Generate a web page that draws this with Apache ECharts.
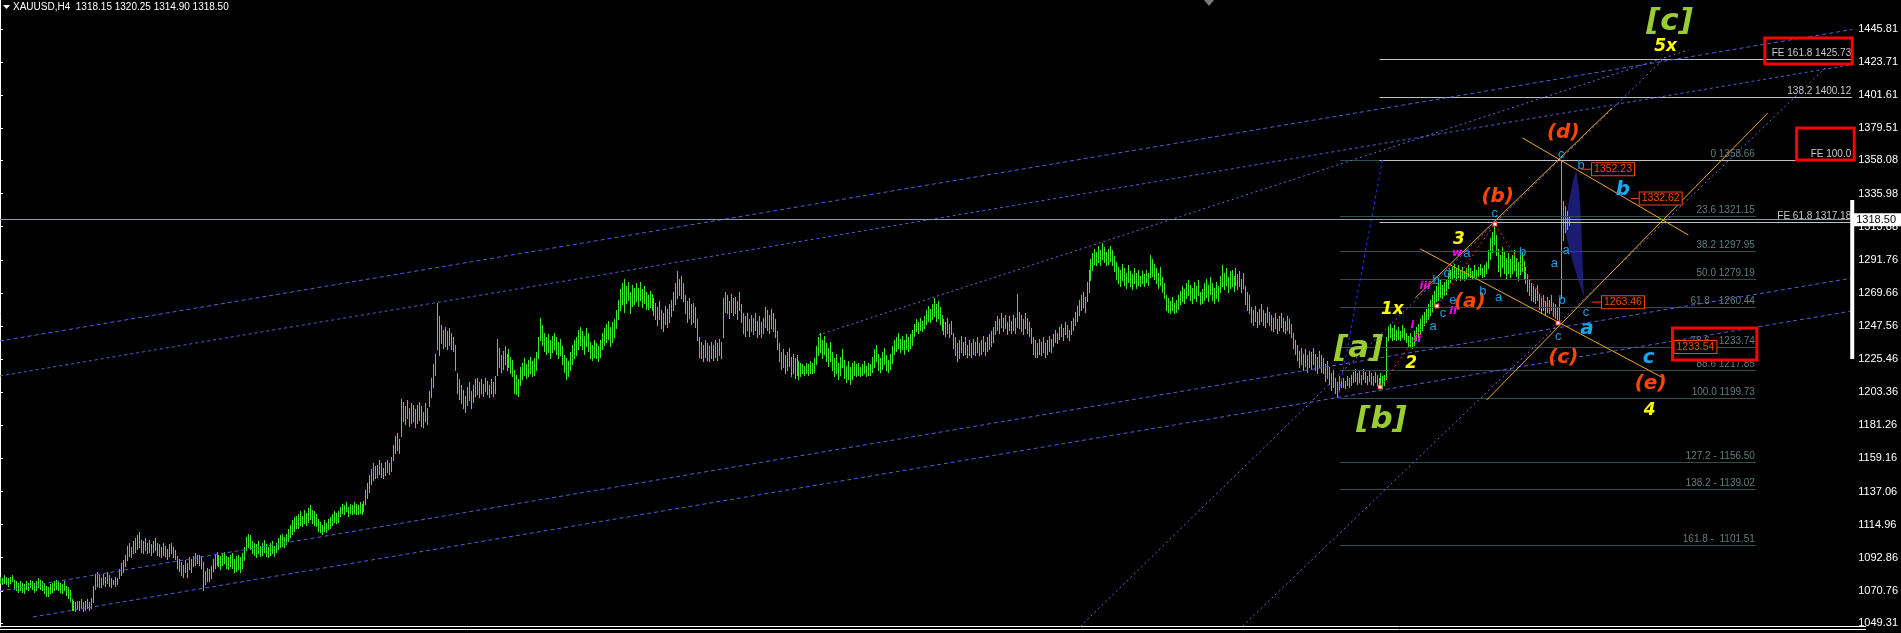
<!DOCTYPE html>
<html>
<head>
<meta charset="utf-8">
<script src="https://cdn.jsdelivr.net/npm/echarts@6/dist/echarts.min.js"></script>
<style>
html, body { margin: 0; padding: 0; background: #000; }
#chart { width: 1901px; height: 633px; }
</style>
</head>
<body>
<div id="chart"></div>
<script>
// XAUUSD H4 bars, oldest first: [high, low]
const barHighLow = [
[1080,1076],[1079,1075],[1081,1076],[1080,1075],[1079,1074],[1080,1076],[1081,1077],[1078,1072],[1077,1071],[1076,1070],
[1077,1071],[1076,1070],[1075,1069],[1077,1072],[1076,1071],[1078,1073],[1077,1072],[1076,1070],[1077,1071],[1079,1073],
[1078,1072],[1077,1071],[1076,1069],[1074,1067],[1073,1067],[1075,1069],[1076,1070],[1077,1071],[1078,1072],[1077,1071],
[1076,1070],[1075,1069],[1077,1071],[1074,1068],[1073,1066],[1071,1064],[1065,1058],[1064,1058],[1063,1057],[1064,1059],
[1064,1058],[1065,1059],[1063,1057],[1064,1058],[1065,1059],[1063,1058],[1066,1059],[1074,1063],[1082,1072],[1083,1074],
[1081,1073],[1079,1073],[1082,1075],[1080,1074],[1083,1076],[1081,1074],[1079,1073],[1078,1075],[1080,1074],[1079,1075],
[1085,1079],[1089,1081],[1091,1083],[1095,1087],[1101,1091],[1103,1094],[1100,1093],[1104,1096],[1106,1097],[1108,1099],
[1110,1100],[1105,1097],[1104,1096],[1106,1098],[1103,1096],[1105,1097],[1102,1095],[1104,1097],[1106,1098],[1103,1095],
[1102,1094],[1100,1093],[1103,1095],[1101,1094],[1099,1092],[1102,1094],[1103,1096],[1100,1093],[1098,1092],[1094,1086],
[1092,1084],[1090,1081],[1088,1080],[1091,1083],[1089,1080],[1093,1085],[1092,1083],[1094,1087],[1096,1088],[1095,1089],
[1095,1088],[1094,1086],[1090,1071],[1084,1075],[1086,1077],[1085,1077],[1087,1079],[1092,1084],[1095,1086],[1097,1088],
[1095,1087],[1094,1085],[1096,1088],[1097,1089],[1094,1086],[1093,1085],[1095,1087],[1096,1086],[1092,1083],[1094,1084],
[1095,1085],[1093,1083],[1096,1086],[1100,1091],[1107,1098],[1109,1100],[1108,1099],[1104,1096],[1103,1095],[1102,1093],
[1104,1096],[1101,1094],[1103,1095],[1105,1097],[1102,1094],[1100,1093],[1103,1095],[1104,1096],[1101,1094],[1103,1097],
[1106,1099],[1108,1100],[1109,1101],[1107,1100],[1109,1102],[1112,1104],[1115,1107],[1118,1109],[1120,1111],[1121,1113],
[1122,1113],[1124,1115],[1121,1114],[1125,1116],[1123,1115],[1126,1117],[1128,1119],[1125,1116],[1124,1115],[1122,1114],
[1119,1111],[1117,1110],[1115,1109],[1118,1111],[1116,1110],[1119,1112],[1120,1113],[1122,1115],[1124,1117],[1123,1116],
[1124,1117],[1127,1121],[1129,1123],[1128,1122],[1130,1124],[1127,1121],[1129,1123],[1128,1122],[1130,1123],[1129,1122],
[1128,1122],[1130,1123],[1129,1122],[1131,1124],[1138,1129],[1143,1133],[1148,1137],[1152,1142],[1156,1145],[1154,1146],
[1155,1147],[1158,1149],[1156,1147],[1153,1146],[1157,1148],[1158,1150],[1156,1149],[1160,1151],[1168,1158],[1174,1163],
[1176,1165],[1172,1163],[1199,1174],[1197,1184],[1194,1182],[1198,1186],[1193,1181],[1196,1183],[1195,1184],[1192,1180],
[1195,1183],[1197,1185],[1194,1181],[1190,1180],[1196,1184],[1193,1182],[1204,1194],[1213,1200],[1222,1207],[1229,1215],
[1263,1232],[1254,1228],[1248,1236],[1245,1233],[1247,1234],[1244,1232],[1246,1235],[1243,1232],[1240,1231],[1235,1218],
[1216,1203],[1212,1199],[1208,1196],[1205,1193],[1201,1190],[1207,1195],[1210,1198],[1204,1193],[1208,1197],[1212,1201],
[1213,1202],[1210,1200],[1212,1203],[1209,1201],[1213,1204],[1211,1202],[1208,1200],[1212,1203],[1210,1201],[1214,1203],
[1239,1215],[1233,1220],[1228,1217],[1231,1219],[1234,1222],[1229,1218],[1232,1220],[1227,1216],[1225,1214],[1218,1203],
[1215,1202],[1212,1201],[1220,1208],[1223,1212],[1226,1215],[1222,1213],[1225,1214],[1227,1216],[1224,1214],[1226,1215],
[1230,1218],[1240,1226],[1253,1238],[1248,1235],[1243,1231],[1240,1229],[1242,1230],[1238,1226],[1241,1230],[1243,1232],
[1240,1229],[1237,1226],[1239,1228],[1234,1222],[1228,1217],[1226,1212],[1224,1214],[1230,1218],[1235,1222],[1238,1226],
[1240,1228],[1245,1232],[1247,1235],[1244,1232],[1241,1229],[1246,1234],[1243,1231],[1237,1226],[1235,1225],[1238,1227],
[1236,1226],[1234,1224],[1238,1227],[1243,1232],[1246,1235],[1249,1237],[1251,1239],[1247,1234],[1250,1237],[1252,1240],
[1258,1246],[1265,1252],[1272,1258],[1276,1262],[1279,1257],[1274,1263],[1277,1265],[1270,1256],[1275,1261],[1273,1262],
[1276,1264],[1273,1261],[1277,1265],[1272,1260],[1274,1263],[1270,1259],[1268,1259],[1271,1260],[1269,1258],[1266,1255],
[1263,1252],[1260,1248],[1264,1252],[1258,1246],[1256,1244],[1261,1249],[1259,1247],[1262,1250],[1265,1254],[1270,1258],
[1276,1262],[1284,1266],[1279,1268],[1281,1266],[1276,1264],[1268,1256],[1264,1250],[1266,1253],[1262,1249],[1263,1250],
[1260,1247],[1252,1238],[1240,1227],[1237,1226],[1235,1224],[1238,1227],[1236,1225],[1234,1224],[1237,1226],[1235,1225],
[1238,1227],[1236,1225],[1239,1228],[1237,1226],[1266,1240],[1270,1257],[1268,1256],[1264,1253],[1269,1257],[1266,1255],
[1267,1256],[1264,1252],[1270,1258],[1262,1250],[1256,1243],[1254,1241],[1256,1245],[1252,1241],[1255,1244],[1253,1242],
[1256,1245],[1251,1240],[1254,1242],[1250,1240],[1253,1243],[1260,1247],[1258,1245],[1255,1243],[1259,1246],[1256,1244],
[1252,1240],[1244,1232],[1236,1224],[1230,1219],[1232,1220],[1228,1216],[1230,1218],[1233,1221],[1227,1214],[1229,1216],
[1226,1213],[1228,1215],[1224,1212],[1223,1214],[1222,1216],[1221,1215],[1223,1216],[1222,1215],[1224,1216],[1223,1216],
[1226,1217],[1234,1222],[1240,1228],[1243,1230],[1238,1226],[1241,1229],[1236,1224],[1233,1221],[1237,1224],[1230,1218],
[1226,1214],[1229,1216],[1223,1212],[1227,1215],[1232,1220],[1225,1213],[1221,1210],[1224,1212],[1220,1209],[1223,1212],
[1224,1215],[1222,1214],[1223,1215],[1220,1214],[1222,1215],[1224,1216],[1221,1214],[1223,1215],[1222,1215],[1227,1217],
[1232,1220],[1235,1224],[1229,1218],[1226,1217],[1230,1219],[1233,1222],[1228,1218],[1225,1217],[1229,1219],[1234,1223],
[1238,1229],[1240,1231],[1243,1233],[1239,1230],[1241,1232],[1238,1229],[1242,1232],[1240,1231],[1242,1233],[1245,1235],
[1249,1241],[1252,1244],[1250,1243],[1253,1245],[1251,1244],[1254,1246],[1258,1249],[1261,1251],[1259,1250],[1262,1252],
[1266,1254],[1262,1251],[1264,1253],[1260,1249],[1255,1245],[1252,1242],[1250,1241],[1253,1243],[1249,1240],[1251,1242],
[1243,1233],[1240,1228],[1236,1224],[1238,1226],[1241,1230],[1237,1228],[1240,1229],[1235,1227],[1238,1228],[1236,1227],
[1239,1229],[1237,1228],[1240,1230],[1236,1228],[1238,1229],[1241,1231],[1237,1228],[1240,1231],[1242,1232],[1244,1234],
[1247,1237],[1251,1242],[1254,1245],[1252,1243],[1256,1247],[1253,1244],[1255,1246],[1250,1242],[1254,1245],[1251,1243],
[1255,1245],[1253,1243],[1269,1247],[1257,1246],[1255,1244],[1252,1242],[1256,1246],[1253,1243],[1250,1241],[1246,1236],
[1240,1229],[1238,1227],[1236,1227],[1239,1229],[1237,1228],[1240,1230],[1236,1227],[1238,1229],[1241,1231],[1239,1230],
[1242,1234],[1245,1237],[1243,1236],[1247,1239],[1249,1241],[1246,1238],[1250,1242],[1248,1240],[1245,1238],[1251,1242],
[1253,1245],[1257,1248],[1261,1251],[1265,1255],[1268,1258],[1270,1260],[1267,1257],[1277,1264],[1285,1270],[1292,1278],
[1296,1285],[1299,1289],[1297,1288],[1301,1290],[1298,1288],[1303,1292],[1300,1290],[1297,1288],[1299,1289],[1301,1291],
[1298,1288],[1294,1284],[1290,1279],[1287,1276],[1285,1274],[1289,1278],[1286,1275],[1283,1273],[1288,1277],[1284,1274],
[1282,1272],[1286,1276],[1283,1273],[1285,1275],[1281,1274],[1284,1276],[1282,1274],[1285,1277],[1283,1275],[1295,1280],
[1292,1281],[1289,1279],[1286,1276],[1283,1273],[1287,1275],[1280,1270],[1276,1266],[1268,1258],[1266,1257],[1264,1256],
[1267,1258],[1263,1256],[1265,1257],[1268,1259],[1271,1262],[1274,1264],[1272,1263],[1276,1266],[1278,1268],[1275,1265],
[1273,1263],[1277,1266],[1274,1264],[1278,1268],[1270,1262],[1272,1263],[1276,1265],[1279,1267],[1275,1264],[1280,1269],
[1276,1265],[1273,1263],[1277,1266],[1274,1264],[1281,1270],[1288,1274],[1283,1272],[1286,1275],[1280,1270],[1284,1273],
[1285,1274],[1281,1271],[1286,1275],[1282,1272],[1284,1274],[1279,1270],[1283,1273],[1274,1262],[1270,1258],[1268,1256],
[1260,1250],[1258,1248],[1261,1251],[1257,1247],[1259,1249],[1262,1251],[1258,1248],[1256,1247],[1260,1250],[1257,1248],
[1255,1245],[1253,1244],[1256,1246],[1252,1243],[1254,1245],[1256,1247],[1253,1244],[1251,1243],[1254,1245],[1252,1243],
[1249,1240],[1243,1233],[1238,1229],[1235,1225],[1231,1220],[1233,1222],[1229,1218],[1232,1221],[1228,1217],[1231,1220],
[1230,1219],[1233,1222],[1229,1218],[1227,1216],[1231,1220],[1228,1217],[1226,1216],[1222,1211],[1224,1213],[1220,1209],
[1216,1205],[1218,1207],[1213,1203],[1210,1200],[1214,1204],[1212,1207],[1213,1207],[1211,1206],[1214,1208],[1213,1207],
[1215,1208],[1217,1210],[1219,1211],[1216,1209],[1218,1210],[1215,1209],[1219,1212],[1217,1210],[1214,1209],[1218,1211],
[1216,1209],[1214,1208],[1217,1210],[1215,1208],[1213,1207],[1216,1208],[1214,1206],[1215,1208],[1240,1212],[1247,1238],
[1249,1240],[1246,1238],[1248,1239],[1245,1238],[1247,1239],[1244,1238],[1248,1240],[1246,1239],[1243,1237],[1241,1234],
[1243,1234],[1240,1233],[1244,1235],[1247,1238],[1249,1240],[1252,1243],[1255,1245],[1257,1248],[1259,1250],[1262,1252],
[1265,1255],[1268,1257],[1271,1260],[1274,1264],[1276,1265],[1278,1267],[1275,1266],[1277,1268],[1279,1269],[1283,1273],
[1285,1277],[1287,1279],[1289,1280],[1286,1278],[1288,1280],[1285,1278],[1287,1279],[1284,1278],[1286,1279],[1288,1281],
[1286,1280],[1284,1279],[1288,1281],[1285,1280],[1287,1281],[1289,1282],[1286,1280],[1288,1281],[1290,1283],[1298,1286],
[1306,1292],[1310,1297],[1316,1302],[1308,1295],[1299,1284],[1295,1281],[1300,1287],[1297,1283],[1293,1279],[1296,1283],
[1292,1280],[1295,1283],[1298,1285],[1293,1281],[1290,1278],[1294,1282],[1297,1284],[1291,1279],[1287,1276],[1282,1271],
[1279,1268],[1276,1265],[1274,1264],[1272,1263],[1275,1265],[1269,1259],[1266,1256],[1268,1258],[1264,1255],[1267,1257],
[1265,1256],[1268,1258],[1263,1254],[1262,1253],[1260,1252],[1266,1250],[1358.66,1266],[1331,1305],[1328,1310],[1324,1312],
[1320.25,1314.9]
];

const symbolHeader = 'XAUUSD,H4  1318.15 1320.25 1314.90 1318.50';
const bidPrice = 1318.50;
const priceTicks = [1445.81, 1423.71, 1401.61, 1379.51, 1358.08, 1335.98, 1313.88, 1291.76, 1269.66,
  1247.56, 1225.46, 1203.36, 1181.26, 1159.16, 1137.06, 1114.96, 1092.86, 1070.76, 1049.31];

// fibonacci retracement: [price, text], drawn between two bar positions
const fibLevels = [
  [1358.66, '0 1358.66'], [1321.15, '23.6 1321.15'], [1297.95, '38.2 1297.95'], [1279.19, '50.0 1279.19'],
  [1260.44, '61.8 - 1260.44'], [1233.74, '78.6 - 1233.74'], [1217.85, '88.6 1217.85'], [1199.73, '100.0 1199.73'],
  [1156.50, '127.2 - 1156.50'], [1139.02, '138.2 - 1139.02'], [1101.51, '161.8 -  1101.51']
];
const fibSpan = [674.5, 884];
// fibonacci expansion
const feLevels = [[1425.73, 'FE 161.8 1425.73'], [1400.12, '138.2 1400.12'], [1358.2, 'FE 100.0'], [1317.18, 'FE 61.8 1317.18']];
const feSpan = [694.5, 932.5];

// trend / channel lines: [bar1, price1, bar2, price2]
const channelLines = [[0, 1237.5, 932.5, 1445.5], [0, 1070.6, 932.5, 1279.6], [16.5, 1053.3, 932.5, 1257.6]];
const channelLinesFine = [[0, 1214.2, 932.5, 1422.1]];
const dottedLines = [[412, 1241.5, 850, 1431.8], [542, 1044.6, 838, 1426.5], [622, 1042.6, 921.5, 1423.1]];
const blueLine = [[696, 1358.4, 673.5, 1198.2]];
const orangeLines = [[715, 1299.0, 836.5, 1213.5], [712.5, 1266.3, 811.5, 1393.1], [748.5, 1198.2, 890, 1389.8], [766.5, 1373.1, 850, 1308.3]];
// zigzag through the wave pivots: [bar, price]
const wavePath = [[695, 1206.8], [723.5, 1260.9], [752.5, 1315.7], [784.5, 1249.6]];
// projection shape to the right of the last bar: [bar, price]
const projection = [[793.5, 1351.7], [795, 1338.4], [796, 1318.3], [796.5, 1298.3], [797, 1281.6], [797.5, 1266.9],
  [795, 1276.3], [791.5, 1291.6], [789, 1305.0], [788, 1311.6], [788.5, 1321.7], [790, 1331.7], [792, 1345.0]];
// highlight rectangles: [bar1, price1, bar2, price2]
const boxes = [[888.5, 1439.8, 932.5, 1422.5], [904.5, 1379.7, 933.5, 1358.4], [842, 1246.2, 884.5, 1224.9]];
// price tags: [bar, price, text] and their leader lines
const priceTags = [[801.5, 1352.23, '1352.23'], [825.5, 1332.62, '1332.62'], [806.5, 1263.46, '1263.46'], [843, 1233.54, '1233.54']];
const tagLeaders = [[796, 1352.23, 801.5, 1352.23], [821, 1332.62, 825.5, 1332.62], [801.5, 1263.46, 806.5, 1263.46], [843, 1237.1, 853.5, 1237.1]];
// elliott wave labels: [bar, price, text, degree]
const waveLabels = [
  [840.5, 1450.5, '[c]', 'cycle'], [684, 1232.2, '[a]', 'cycle'], [695.5, 1184.8, '[b]', 'cycle'],
  [838.5, 1433.8, '5x', 'primary'], [734.5, 1305.0, '3', 'primary'], [701, 1258.2, '1x', 'primary'],
  [710.5, 1222.2, '2', 'primary'], [830.5, 1190.8, '4', 'primary'],
  [787, 1376.4, '(d)', 'inter'], [754, 1333.7, '(b)', 'inter'], [740, 1263.6, '(a)', 'inter'],
  [787, 1226.2, '(c)', 'inter'], [831, 1208.8, '(e)', 'inter'],
  [817, 1338.4, 'b', 'minor'], [799, 1245.6, 'a', 'minor'], [830, 1226.2, 'c', 'minor'],
  [786, 1362.4, 'c', 'minute'], [796, 1355.0, 'b', 'minute'], [752.5, 1323.0, 'c', 'minute'],
  [738.5, 1296.3, 'a', 'minute'], [728.5, 1282.9, 'd', 'minute'], [723, 1278.3, 'b', 'minute'],
  [731.5, 1264.9, 'e', 'minute'], [726.5, 1256.2, 'c', 'minute'], [721.5, 1247.6, 'a', 'minute'],
  [746.5, 1270.9, 'b', 'minute'], [754.5, 1266.9, 'a', 'minute'], [766.5, 1297.0, 'b', 'minute'],
  [782.5, 1289.6, 'a', 'minute'], [788.5, 1298.3, 'a', 'minute'], [786.5, 1264.9, 'b', 'minute'],
  [798.5, 1256.9, 'c', 'minute'], [784.5, 1240.9, 'c', 'minute'],
  [717.5, 1274.3, 'iii', 'minuette'], [733.5, 1296.3, 'w', 'minuette'], [711, 1248.2, 'i', 'minuette'],
  [713.5, 1238.9, 'ii', 'minuette'], [731.5, 1257.6, 'ii', 'minuette']
];
const axisHighlight = [[932.5, 1331.7, 1225.5]];

const degreeStyle = {
  cycle: { fill: '#9acd32', fontSize: 31, fontWeight: 'bold', fontStyle: 'italic' },
  primary: { fill: '#ffff00', fontSize: 17, fontWeight: 'bold', fontStyle: 'italic' },
  inter: { fill: '#ff4500', fontSize: 20, fontWeight: 'bold', fontStyle: 'italic' },
  minor: { fill: '#10aaf5', fontSize: 20, fontWeight: 'bold', fontStyle: 'italic' },
  minute: { fill: '#1e9ee6', fontSize: 13, fontWeight: 'normal', fontStyle: 'normal' },
  minuette: { fill: '#ff00ff', fontSize: 11, fontWeight: 'bold', fontStyle: 'italic' }
};
const SANS = '"Liberation Sans", Arial, sans-serif';

const chart = echarts.init(document.getElementById('chart'));

function segRenderer(stroke, dash) {
  return function (params, api) {
    const a = api.coord([api.value(0), api.value(1)]);
    const b = api.coord([api.value(2), api.value(3)]);
    return {
      type: 'line',
      shape: { x1: a[0], y1: a[1], x2: b[0], y2: b[1] },
      style: { stroke: stroke, lineWidth: 1, lineDash: dash }
    };
  };
}

function lineSeries(data, stroke, dash, z) {
  return { type: 'custom', data: data, clip: true, z: z, silent: true, renderItem: segRenderer(stroke, dash) };
}

function levelSeries(levels, span, lineColor, textColor) {
  return {
    type: 'custom', z: 3, silent: true, clip: false,
    data: levels.map(l => [l[0]]),
    renderItem: function (params, api) {
      const a = api.coord([span[0], api.value(0)]);
      const b = api.coord([span[1], api.value(0)]);
      const y = Math.round(a[1]) + 0.5;
      return {
        type: 'group',
        children: [
          { type: 'line', shape: { x1: a[0], y1: y, x2: b[0], y2: y }, style: { stroke: lineColor, lineWidth: 1 } },
          { type: 'text', x: b[0] - 1, y: y - 1,
            style: { text: levels[params.dataIndex][1], fill: textColor, fontSize: 10, fontFamily: SANS, align: 'right', verticalAlign: 'bottom' } }
        ]
      };
    }
  };
}

const option = {
  backgroundColor: '#000000',
  animation: false,
  grid: { left: 0, right: 36, top: 0, bottom: 6 },
  xAxis: { type: 'value', min: 0, max: 932.5, show: false },
  yAxis: {
    type: 'value', position: 'right', min: 1046.6, max: 1465.2,
    axisLine: { show: true, lineStyle: { color: '#ffffff', width: 1 } },
    axisTick: { show: true, length: 3, lineStyle: { color: '#ffffff' }, customValues: priceTicks },
    axisLabel: { color: '#ffffff', fontSize: 11, fontFamily: SANS, margin: 6, customValues: priceTicks,
      formatter: v => v.toFixed(2) },
    splitLine: { show: false }
  },
  graphic: [
    { type: 'polygon', shape: { points: [[3, 5], [10, 5], [6.5, 9]] }, style: { fill: '#ffffff' } },
    { type: 'text', left: 13, top: 2, style: { text: symbolHeader, fill: '#ffffff', fontSize: 10, fontFamily: SANS } },
    { type: 'polygon', shape: { points: [[1204, 0], [1214, 0], [1209, 6]] }, style: { fill: '#7a7a7a' } },
    { type: 'line', shape: { x1: 0, y1: 626.5, x2: 1866, y2: 626.5 }, style: { stroke: '#ffffff', lineWidth: 1 } },
    { type: 'line', shape: { x1: 0, y1: 629.5, x2: 1866, y2: 629.5 }, style: { stroke: '#ffffff', lineWidth: 1 } }
  ],
  series: [
    // projection shape, behind the bars
    {
      type: 'custom', z: 1, silent: true, data: [0],
      renderItem: function (params, api) {
        return { type: 'polygon', shape: { points: projection.map(p => api.coord(p)) }, style: { fill: '#1b1b72' } };
      }
    },
    // price bars
    {
      type: 'custom', z: 2, silent: true,
      data: barHighLow.map((d, i) => [i, d[0], d[1]]),
      renderItem: function (params, api) {
        const top = api.coord([api.value(0), api.value(1)]);
        const bot = api.coord([api.value(0), api.value(2)]);
        const x = Math.round(top[0]) + 0.5;
        return { type: 'line', shape: { x1: x, y1: Math.round(top[1]), x2: x, y2: Math.round(bot[1]) + 1 },
          style: { stroke: '#36ea2a', lineWidth: 1 } };
      },
      markLine: {
        symbol: ['none', 'none'], silent: true, animation: false,
        lineStyle: { color: '#8c9aaa', type: 'solid', width: 1 },
        label: { position: 'end', distance: 1, formatter: bidPrice.toFixed(2), color: '#000', backgroundColor: '#ffffff',
          fontSize: 11, fontFamily: SANS, padding: [1, 6, 1, 3] },
        data: [{ yAxis: bidPrice }]
      }
    },
    levelSeries(fibLevels, fibSpan, '#2f4f4f', '#607c7c'),
    levelSeries(feLevels, feSpan, '#c0c0c0', '#c8c8c8'),
    lineSeries(channelLines, '#5a5ad8', [4, 3], 4),
    lineSeries(channelLinesFine, '#5a5ad8', [3, 3], 4),
    lineSeries(dottedLines, '#6a6ae0', [2, 3], 4),
    lineSeries(blueLine, '#2030ff', [3, 3], 4),
    lineSeries(orangeLines, '#eea826', null, 4),
    lineSeries(tagLeaders, '#ff4500', null, 5),
    // zigzag
    {
      type: 'custom', z: 5, silent: true, data: [0], clip: true,
      renderItem: function (params, api) {
        const pts = wavePath.map(p => api.coord(p));
        const children = [{ type: 'polyline', shape: { points: pts }, style: { stroke: '#ff2020', lineWidth: 1, lineDash: [2, 3], fill: null } }];
        pts.forEach(p => children.push({ type: 'rect', shape: { x: Math.round(p[0]) - 2, y: Math.round(p[1]) - 2, width: 4, height: 4 },
          style: { fill: '#ffffff', stroke: '#ff2020', lineWidth: 1 } }));
        return { type: 'group', children: children };
      }
    },
    // highlight boxes
    {
      type: 'custom', z: 6, silent: true, clip: false, data: boxes,
      renderItem: function (params, api) {
        const a = api.coord([api.value(0), api.value(1)]);
        const b = api.coord([api.value(2), api.value(3)]);
        return { type: 'rect', shape: { x: a[0], y: a[1], width: b[0] - a[0], height: b[1] - a[1] },
          style: { fill: null, stroke: '#ff0000', lineWidth: 3 } };
      }
    },
    // thick marker on the price scale
    {
      type: 'custom', z: 6, silent: true, clip: false, data: axisHighlight,
      renderItem: function (params, api) {
        const a = api.coord([api.value(0), api.value(1)]);
        const b = api.coord([api.value(0), api.value(2)]);
        return { type: 'rect', shape: { x: a[0] - 2, y: a[1], width: 4, height: b[1] - a[1] }, style: { fill: '#ffffff' } };
      }
    },
    // price tags
    {
      type: 'custom', z: 7, silent: true, clip: false, data: priceTags.map(t => [t[0], t[1]]),
      renderItem: function (params, api) {
        const c = api.coord([api.value(0), api.value(1)]);
        return { type: 'text', x: c[0], y: c[1],
          style: { text: priceTags[params.dataIndex][2], fill: '#ff4500', fontSize: 10.5, fontFamily: SANS,
            backgroundColor: '#000', borderColor: '#ff4500', borderWidth: 1, padding: [1, 2, 0, 2],
            align: 'left', verticalAlign: 'middle' } };
      }
    },
    // wave labels
    {
      type: 'custom', z: 8, silent: true, clip: false, data: waveLabels.map(w => [w[0], w[1]]),
      renderItem: function (params, api) {
        const w = waveLabels[params.dataIndex];
        const s = degreeStyle[w[3]];
        const c = api.coord([api.value(0), api.value(1)]);
        const family = (w[3] === 'minute') ? SANS : '"DejaVu Sans", sans-serif';
        return { type: 'text', x: c[0], y: c[1],
          style: { text: w[2], fill: s.fill, fontSize: s.fontSize, fontWeight: s.fontWeight, fontStyle: s.fontStyle,
            fontFamily: family, align: 'center', verticalAlign: 'middle' } };
      }
    }
  ]
};

chart.setOption(option);
</script>
</body>
</html>
